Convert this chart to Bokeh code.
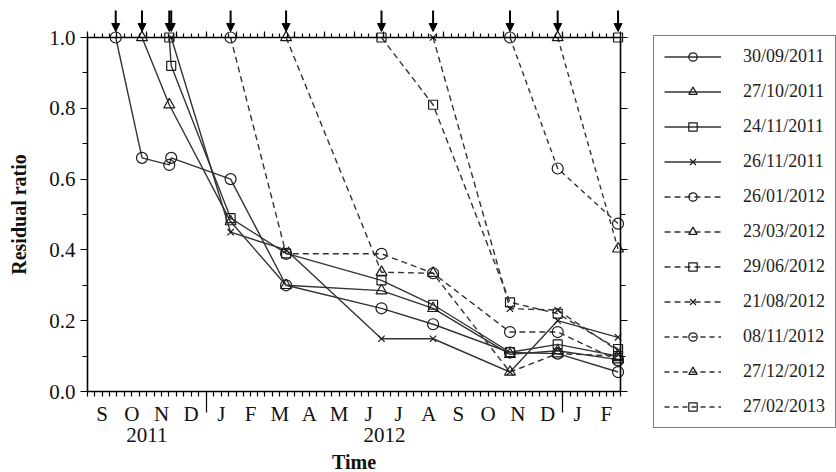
import pandas as pd
from bokeh.plotting import figure
from bokeh.models import (Range1d, LinearAxis, FixedTicker, ColumnDataSource, Legend,
                          LegendItem, Arrow, NormalHead, PrintfTickFormatter)
from bokeh.embed import file_html
from bokeh.resources import INLINE

# ---------------- data ----------------
sample_dates = ["2011-09-30", "2011-10-27", "2011-11-24", "2011-11-26", "2012-01-26",
                "2012-03-23", "2012-06-29", "2012-08-21", "2012-11-08", "2012-12-27",
                "2013-02-27"]

series_labels = ["30/09/2011", "27/10/2011", "24/11/2011", "26/11/2011", "26/01/2012",
                 "23/03/2012", "29/06/2012", "21/08/2012", "08/11/2012", "27/12/2012",
                 "27/02/2013"]

ratio_30_09_2011 = [1.0, 0.66, 0.64, 0.66, 0.60, 0.30, 0.235, 0.19, 0.11, 0.107, 0.055]
ratio_27_10_2011 = [None, 1.0, 0.81, None, 0.48, 0.30, 0.285, 0.235, 0.105, 0.115, 0.09]
ratio_24_11_2011 = [None, None, 1.0, 0.92, 0.49, 0.39, 0.314, 0.245, 0.111, 0.133, 0.10]
ratio_26_11_2011 = [None, None, None, 1.0, 0.45, 0.40, 0.149, 0.149, 0.055, 0.20, 0.153]
ratio_26_01_2012 = [None, None, None, None, 1.0, 0.389, 0.389, 0.334, 0.168, 0.168, 0.088]
ratio_23_03_2012 = [None, None, None, None, None, 1.0, 0.337, 0.334, 0.055, 0.107, 0.10]
ratio_29_06_2012 = [None, None, None, None, None, None, 1.0, 0.81, 0.252, 0.22, 0.12]
ratio_21_08_2012 = [None, None, None, None, None, None, None, 1.0, 0.234, 0.23, 0.115]
ratio_08_11_2012 = [None, None, None, None, None, None, None, None, 1.0, 0.63, 0.474]
ratio_27_12_2012 = [None, None, None, None, None, None, None, None, None, 1.0, 0.403]
ratio_27_02_2013 = [None, None, None, None, None, None, None, None, None, None, 1.0]

all_ratios = [ratio_30_09_2011, ratio_27_10_2011, ratio_24_11_2011, ratio_26_11_2011,
              ratio_26_01_2012, ratio_23_03_2012, ratio_29_06_2012, ratio_21_08_2012,
              ratio_08_11_2012, ratio_27_12_2012, ratio_27_02_2013]

month_letters = ["S", "O", "N", "D", "J", "F", "M", "A", "M", "J", "J", "A", "S", "O",
                 "N", "D", "J", "F"]
year_labels = ["2011", "2012"]
y_ticks = [0.0, 0.2, 0.4, 0.6, 0.8, 1.0]
y_minor = [0.1, 0.3, 0.5, 0.7, 0.9]

# ---------------- styles ----------------
markers = ["circle", "triangle", "square", "x", "circle", "triangle", "square", "x",
           "circle", "triangle", "square"]
sizes = {"circle": 11, "triangle": 11, "square": 9, "x": 9}
dashes = ["solid"] * 4 + ["6 4"] * 4 + ["5 4"] * 3
FONT = "Liberation Serif"
LINE_COL = "#333333"

W, H = 836, 472
BOX_L, BOX_R, BOX_T, BOX_B = 87.0, 619.5, 37.0, 391.0   # axes box in pixels


def ms(d):
    return int(pd.Timestamp(d).value // 10**6)


x0 = ms("2011-09-01")
x1 = ms("2013-03-01")
y0, y1 = 0.0, 1.0

# the frame fills the whole canvas; the data box sits inside it
xpp = (x1 - x0) / (BOX_R - BOX_L)
ypp = (y1 - y0) / (BOX_B - BOX_T)
x_range = Range1d(x0 - BOX_L * xpp, x1 + (W - BOX_R) * xpp)
y_range = Range1d(y0 - (H - BOX_B) * ypp, y1 + BOX_T * ypp)

p = figure(width=W, height=H, output_backend="svg", toolbar_location=None,
           x_axis_type=None, y_axis_type=None, x_range=x_range, y_range=y_range,
           min_border=0, min_border_left=0, min_border_right=0, min_border_top=0,
           min_border_bottom=0)
p.outline_line_color = None
p.grid.visible = False
p.background_fill_color = "white"
p.border_fill_color = "white"

# ---------------- ticks ----------------
month_starts = pd.date_range("2011-09-01", "2013-03-01", freq="MS")
mid_ticks, quarter_ticks, boundary_ticks = [], [], []
for a, b in zip(month_starts[:-1], month_starts[1:]):
    sa, sb = ms(a), ms(b)
    step = (sb - sa) // 4
    boundary_ticks.append(sa)
    mid_ticks.append(sa + 2 * step)
    for k in range(4):
        quarter_ticks.append(sa + k * step)
boundary_ticks.append(x1)
quarter_ticks.append(x1)
minor_bottom = [t for t in quarter_ticks if t not in mid_ticks]
year_bounds = [ms("2012-01-01"), ms("2013-01-01")]

AX_W = 1.6


def style_axis(ax):
    ax.axis_line_width = AX_W
    ax.axis_line_color = "black"
    ax.major_tick_line_color = "black"
    ax.minor_tick_line_color = "black"
    ax.major_tick_line_width = 1.2
    ax.minor_tick_line_width = 1.2
    ax.major_tick_in = 0
    ax.minor_tick_in = 0
    ax.major_label_text_font = FONT
    ax.major_label_text_color = "#111111"
    ax.axis_label_text_font = FONT
    ax.axis_label_text_color = "#111111"


# bottom month axis
xb = LinearAxis(ticker=FixedTicker(ticks=mid_ticks, minor_ticks=minor_bottom),
                fixed_location=y0, bounds=(x0, x1))
style_axis(xb)
xb.major_label_overrides = {t: m for t, m in zip(mid_ticks, month_letters)}
xb.major_label_text_font_size = "21px"
xb.major_tick_out = 5
xb.minor_tick_out = 5
xb.major_label_standoff = 5
p.add_layout(xb, "below")

# long ticks at the year boundaries
xyb = LinearAxis(ticker=FixedTicker(ticks=year_bounds, minor_ticks=[]),
                 fixed_location=y0, bounds=(x0, x1))
style_axis(xyb)
xyb.axis_line_color = None
xyb.major_tick_out = 21
xyb.major_label_text_color = None
p.add_layout(xyb, "below")

# year labels + axis title
y2011 = ms("2011-11-01")
y2012 = (ms("2012-01-01") + ms("2013-01-01")) // 2
xy = LinearAxis(ticker=FixedTicker(ticks=[y2011, y2012], minor_ticks=[]),
                fixed_location=y0, bounds=(x0, x1))
style_axis(xy)
xy.axis_line_color = None
xy.major_tick_line_color = None
xy.major_tick_out = 0
xy.major_label_overrides = {y2011: year_labels[0], y2012: year_labels[1]}
xy.major_label_text_font_size = "21px"
xy.major_label_standoff = 36
xy.axis_label = "Time"
xy.axis_label_text_font_style = "bold"
xy.axis_label_text_font_size = "20px"
xy.axis_label_standoff = 6
p.add_layout(xy, "below")

# top axis (ticks only)
xt = LinearAxis(ticker=FixedTicker(ticks=boundary_ticks, minor_ticks=quarter_ticks),
                fixed_location=y1, bounds=(x0, x1))
style_axis(xt)
xt.major_label_text_color = None
xt.major_tick_out = 6
xt.minor_tick_out = 4
p.add_layout(xt, "above")

# left axis
yl = LinearAxis(ticker=FixedTicker(ticks=y_ticks, minor_ticks=y_minor),
                fixed_location=x0, bounds=(y0, y1))
style_axis(yl)
yl.formatter = PrintfTickFormatter(format="%.1f")
yl.major_label_text_font_size = "21px"
yl.major_tick_out = 7
yl.minor_tick_out = 5
yl.major_label_standoff = 5
yl.axis_label = "Residual ratio"
yl.axis_label_text_font_style = "bold"
yl.axis_label_text_font_size = "20px"
yl.axis_label_standoff = 16
p.add_layout(yl, "left")

# right axis (ticks only)
yr = LinearAxis(ticker=FixedTicker(ticks=y_ticks, minor_ticks=y_minor),
                fixed_location=x1, bounds=(y0, y1))
style_axis(yr)
yr.major_label_text_color = None
yr.major_tick_out = 7
yr.minor_tick_out = 5
p.add_layout(yr, "right")

# ---------------- series ----------------
items = []
for lab, vals, mk, dash in zip(series_labels, all_ratios, markers, dashes):
    xs = [ms(d) for d, v in zip(sample_dates, vals) if v is not None]
    ys = [v for v in vals if v is not None]
    src = ColumnDataSource(dict(x=xs, y=ys))
    lr = p.line("x", "y", source=src, line_color=LINE_COL, line_width=1.4, line_dash=dash)
    sr = p.scatter("x", "y", source=src, marker=mk, size=sizes[mk], fill_alpha=0,
                   line_color="#1a1a1a", line_width=1.2)
    items.append(LegendItem(label=lab, renderers=[lr, sr]))

# start-date arrows above the top axis
ARROW_TOP, ARROW_TIP = 1.076, 1.017
start_x = [ms(pd.to_datetime(s, format="%d/%m/%Y")) for s in series_labels]
arrow_src = ColumnDataSource(dict(x=start_x, ya=[ARROW_TOP] * len(start_x),
                                  yb=[ARROW_TIP] * len(start_x)))
p.add_layout(Arrow(end=NormalHead(size=8, fill_color="black", line_color="black"),
                   x_start="x", y_start="ya", x_end="x", y_end="yb",
                   source=arrow_src, line_width=2, line_color="black"))

# legend (in screen pixels, relative to the frame = whole canvas)
legend = Legend(items=items, location=(653, 44))
legend.label_text_font = FONT
legend.label_text_font_size = "18px"
legend.label_text_color = "#222222"
legend.glyph_width = 57
legend.glyph_height = 21
legend.label_height = 21
legend.label_standoff = 22
legend.spacing = 14
legend.padding = 10
legend.margin = 0
legend.border_line_color = "black"
legend.border_line_width = 1.6
legend.background_fill_color = "white"
legend.background_fill_alpha = 1.0
p.add_layout(legend)

open("out.html", "w").write(file_html(p, INLINE))
